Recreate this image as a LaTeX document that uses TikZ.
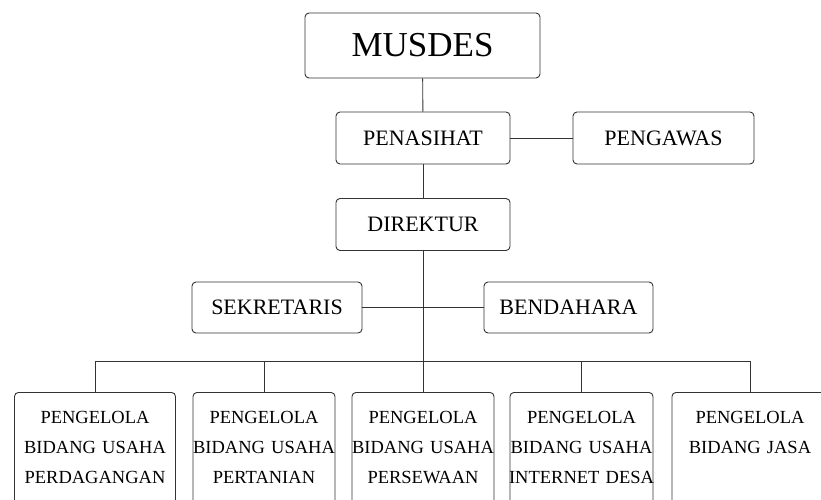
\documentclass[tikz,border=0pt]{standalone}
\usepackage{fontspec}
\setmainfont{Liberation Serif}
\usetikzlibrary{positioning}
\tikzset{box/.style={draw=black!80,line width=0.9pt,rounded corners=4pt,inner sep=0pt,align=center}}
\tikzset{mid/.style={box,minimum height=52pt,font=\fontsize{22}{26}\selectfont}}
\tikzset{unit/.style={box,anchor=north,text width=#1,text height=13pt,text depth=100pt,inner ysep=18.5pt,font=\fontsize{18.5}{30}\selectfont}}
\tikzset{wire/.style={draw=black!80,line width=0.9pt}}

\begin{document}
\begin{tikzpicture}[x=1pt,y=-1pt]
        \clip (0,0) rectangle (821,500);
        \node[box,minimum width=235pt,minimum height=65pt,font=\fontsize{35}{40}\selectfont] (musdes) at (422.5,45.5) {MUSDES};
        \node[mid,minimum width=174pt] (penasihat) at (423,138) {PENASIHAT};
        \node[mid,minimum width=181pt] (pengawas) at (663.5,138) {PENGAWAS};
        \node[mid,minimum width=174pt] (direktur) at (423,224.5) {DIREKTUR};
        \node[mid,minimum width=170pt,minimum height=51pt] (sekretaris) at (277,307.5) {SEKRETARIS};
        \node[mid,minimum width=169pt,minimum height=51pt] (bendahara) at (568.5,307.5) {BENDAHARA};
        \coordinate (bus) at (423,361);
        \node[unit=161pt] (dagang) at (95,392) {PENGELOLA\\BIDANG USAHA\\PERDAGANGAN};
        \node[unit=142pt] (tani) at (264,392) {PENGELOLA\\BIDANG USAHA\\PERTANIAN};
        \node[unit=142pt] (sewa) at (423,392) {PENGELOLA\\BIDANG USAHA\\PERSEWAAN};
        \node[unit=143pt] (internet) at (581.5,392) {PENGELOLA\\BIDANG USAHA\\\makebox[0pt]{INTERNET DESA}};
        \node[unit=156pt] (jasa) at (750,392) {PENGELOLA\\BIDANG JASA};
        \draw[wire] (musdes) -- (penasihat);
        \draw[wire] (penasihat) -- (pengawas);
        \draw[wire] (penasihat) -- (direktur);
        \draw[wire] (direktur) -- (bus);
        \draw[wire] (sekretaris) -- (bendahara);
        \foreach \u in {dagang,tani,sewa,internet,jasa}
            \draw[wire] (bus) -| (\u.north);
    \end{tikzpicture}
\end{document}
